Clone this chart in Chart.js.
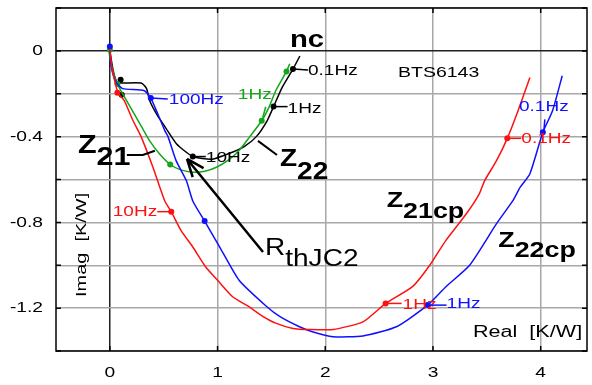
<!DOCTYPE html>
<html>
<head>
<meta charset="utf-8">
<script src="https://cdn.jsdelivr.net/npm/chart.js@4"></script>
<style>
  html, body { margin: 0; padding: 0; background: #fff; }
  #wrap { width: 592px; height: 385px; }
</style>
</head>
<body>
<div id="wrap"><canvas id="nyquist" width="592" height="385"></canvas></div>
<script>
// axis ticks
const xTicks = [0, 1, 2, 3, 4];
const yTicks = [0.2, 0, -0.2, -0.4, -0.6, -0.8, -1.0, -1.2, -1.4];
const yTickLabels = [[0, '0'], [-0.4, '-0.4'], [-0.8, '-0.8'], [-1.2, '-1.2']];

// Z21cp (red) [real, imag]
const z21cpLine = [[0.0, 0.01], [0.02, -0.08], [0.06, -0.17], [0.08, -0.2], [0.135, -0.233], [0.21, -0.32],
  [0.29, -0.40], [0.40, -0.543], [0.51, -0.70], [0.57, -0.75], [0.66, -0.837], [0.77, -0.915], [0.89, -1.008],
  [1.00, -1.07], [1.14, -1.147], [1.28, -1.19], [1.42, -1.238], [1.54, -1.27], [1.70, -1.295], [1.85, -1.30],
  [2.07, -1.30], [2.35, -1.264], [2.56, -1.178], [2.81, -1.10], [2.97, -1.0], [3.12, -0.884], [3.31, -0.76],
  [3.43, -0.667], [3.48, -0.605], [3.59, -0.512], [3.69, -0.408], [3.79, -0.279], [3.90, -0.124]];
const z21cpMarks = [[0.07, -0.195], [0.57, -0.75], [2.56, -1.178], [3.69, -0.408]];

// Z22cp (blue)
const z22cpLine = [[-0.01, 0.03], [0.0, 0.0], [0.014, -0.078], [0.058, -0.147], [0.12, -0.176], [0.32, -0.186],
  [0.38, -0.22], [0.45, -0.30], [0.51, -0.372], [0.54, -0.40], [0.615, -0.512], [0.71, -0.605], [0.77, -0.70],
  [0.88, -0.794], [1.02, -0.915], [1.20, -1.07], [1.45, -1.19], [1.58, -1.24], [1.76, -1.287], [1.88, -1.31],
  [2.07, -1.333], [2.35, -1.33], [2.66, -1.287], [2.95, -1.186], [3.12, -1.10], [3.34, -1.0], [3.59, -0.806],
  [3.74, -0.70], [3.81, -0.636], [3.90, -0.573], [4.02, -0.38], [4.11, -0.279], [4.20, -0.116]];
const z22cpMarks = [[0.0, 0.02], [0.38, -0.22], [0.88, -0.794], [2.95, -1.186], [4.02, -0.38]];

// Z21 (green)
const z21Line = [[-0.01, 0.01], [0.0, -0.03], [0.03, -0.10], [0.07, -0.155], [0.13, -0.21], [0.21, -0.28],
  [0.29, -0.35], [0.37, -0.42], [0.46, -0.48], [0.56, -0.53], [0.66, -0.555], [0.77, -0.566], [0.88, -0.562],
  [0.99, -0.543], [1.10, -0.51], [1.20, -0.465], [1.30, -0.40], [1.41, -0.326], [1.48, -0.26], [1.54, -0.186],
  [1.64, -0.096], [1.67, -0.06]];
const z21Marks = [[0.0, 0.005], [0.07, -0.155], [0.56, -0.53], [1.41, -0.326], [1.64, -0.096]];

// Z22 / nc (black)
const z22Line = [[0.0, 0.0], [0.03, -0.09], [0.06, -0.14], [0.09, -0.15], [0.29, -0.15], [0.34, -0.175],
  [0.37, -0.233], [0.44, -0.30], [0.52, -0.36], [0.62, -0.434], [0.77, -0.493], [0.95, -0.505], [1.10, -0.48],
  [1.25, -0.445], [1.36, -0.40], [1.46, -0.326], [1.52, -0.26], [1.60, -0.17], [1.70, -0.085], [1.764, -0.024]];
const z22Marks = [[0.10, -0.135], [0.11, -0.205], [0.77, -0.493], [1.52, -0.26], [1.70, -0.085]];

const RED = '#ff1010', BLUE = '#1010ff', GREEN = '#10a818', BLACK = '#000000';
const FONT = '"Liberation Sans", Arial, sans-serif';

// frequency labels, hung on markers (offsets in px)
const freqLabels = [
  { text: '100Hz', color: BLUE, at: z22cpMarks[1], line: [0, 0, 17, 1], tx: 18, ty: 2, align: 'left' },
  { text: '1Hz', color: GREEN, at: z21Marks[3], line: [1, -3, 4, -14], tx: -7, ty: -26, align: 'center' },
  { text: '1Hz', color: BLACK, at: z22Marks[3], line: [0, 0, 14, 0], tx: 14, ty: 2, align: 'left' },
  { text: '0.1Hz', color: BLACK, at: z22Marks[4], line: [0, 0, 15, 1], tx: 15, ty: 2, align: 'left' },
  { text: '10Hz', color: BLACK, at: z22Marks[2], line: [0, 0, 13, 0], tx: 13, ty: 1, align: 'left' },
  { text: '10Hz', color: RED, at: z21cpMarks[1], line: [0, 0, -14, 0], tx: -14, ty: 0, align: 'right' },
  { text: '0.1Hz', color: RED, at: z21cpMarks[3], line: [0, 0, 14, 0], tx: 14, ty: 1, align: 'left' },
  { text: '0.1Hz', color: BLUE, at: z22cpMarks[4], line: [1, -1, 2, -13], tx: 1, ty: -25, align: 'center' },
  { text: '1Hz', color: RED, at: z21cpMarks[2], line: [0, 0, 16, 0], tx: 17, ty: 1, align: 'left' },
  { text: '1Hz', color: BLUE, at: z22cpMarks[3], line: [0, 0, 19, 0], tx: 19, ty: -1, align: 'left' }
];

// curve names (data position of left/baseline)
const curveNames = [
  { main: 'Z', sub: '21', at: [-0.296, -0.476], size: 25, dy: 12, bold: true },
  { main: 'Z', sub: '22', at: [1.579, -0.539], size: 23, dy: 13, bold: true },
  { main: 'nc', sub: '', at: [1.672, 0.02], size: 24, dy: 0, bold: true },
  { main: 'R', sub: 'thJC2', at: [1.44, -0.952], size: 23, dy: 11, bold: false },
  { main: 'Z', sub: '21cp', at: [2.57, -0.727], size: 22, dy: 11, bold: true },
  { main: 'Z', sub: '22cp', at: [3.606, -0.913], size: 22, dy: 10, bold: true }
];
const pointers = [
  [[0.158, -0.486], [0.306, -0.486], [0.418, -0.466]],
  [[1.375, -0.42], [1.552, -0.486]]
];
const rthArrow = [[1.422, -0.938], [0.716, -0.504]];

function pts(arr) { return arr.map(p => ({ x: p[0], y: p[1] })); }

function sText(ctx, str, x, y, font, color, sx, align, base) {
  ctx.save();
  ctx.font = font;
  ctx.fillStyle = color;
  ctx.textAlign = 'left';
  ctx.textBaseline = base || 'alphabetic';
  const w = ctx.measureText(str).width * sx;
  let left = x;
  if (align === 'right') left = x - w;
  else if (align === 'center') left = x - w / 2;
  ctx.translate(left, y);
  ctx.scale(sx, 1);
  ctx.fillText(str, 0, 0);
  ctx.restore();
  return w;
}

const decor = {
  id: 'decor',
  afterDraw(chart) {
    const ctx = chart.ctx, a = chart.chartArea;
    const xs = chart.scales.x, ys = chart.scales.y;
    const P = (p) => [xs.getPixelForValue(p[0]), ys.getPixelForValue(p[1])];

    // frame + inward ticks
    ctx.save();
    ctx.strokeStyle = '#000';
    ctx.lineWidth = 1.5;
    ctx.strokeRect(a.left, a.top, a.right - a.left, a.bottom - a.top);
    ctx.beginPath();
    xTicks.forEach(v => {
      const px = xs.getPixelForValue(v);
      ctx.moveTo(px, a.bottom); ctx.lineTo(px, a.bottom - 5);
      ctx.moveTo(px, a.top); ctx.lineTo(px, a.top + 5);
    });
    yTicks.forEach(v => {
      const py = ys.getPixelForValue(v);
      ctx.moveTo(a.left, py); ctx.lineTo(a.left + 5, py);
      ctx.moveTo(a.right, py); ctx.lineTo(a.right - 5, py);
    });
    ctx.stroke();
    ctx.restore();

    // tick labels
    const tickFont = '15px ' + FONT;
    yTickLabels.forEach(t => {
      sText(ctx, t[1], a.left - 13, ys.getPixelForValue(t[0]), tickFont, '#000', 1.28, 'right', 'middle');
    });
    xTicks.forEach(v => {
      sText(ctx, String(v), xs.getPixelForValue(v), a.bottom + 22, tickFont, '#000', 1.28, 'center', 'middle');
    });

    // axis titles
    const at = P([3.371, -1.334]);
    sText(ctx, 'Real  [K/W]', at[0], at[1], '16px ' + FONT, '#000', 1.35, 'left');
    const it = P([-0.259, -0.905]);
    ctx.save();
    ctx.translate(it[0], it[1]);
    ctx.rotate(-Math.PI / 2);
    sText(ctx, 'Imag  [K/W]', 0, 0, '15px ' + FONT, '#000', 1.33, 'center', 'middle');
    ctx.restore();

    const bt = P([2.675, -0.122]);
    sText(ctx, 'BTS6143', bt[0], bt[1], '15px ' + FONT, '#000', 1.3, 'left');

    // frequency labels
    freqLabels.forEach(f => {
      const m = P(f.at);
      ctx.save();
      ctx.strokeStyle = f.color;
      ctx.lineWidth = 1.5;
      ctx.beginPath();
      ctx.moveTo(m[0] + f.line[0], m[1] + f.line[1]);
      ctx.lineTo(m[0] + f.line[2], m[1] + f.line[3]);
      ctx.stroke();
      ctx.restore();
      sText(ctx, f.text, m[0] + f.tx, m[1] + f.ty, '15px ' + FONT, f.color, 1.27, f.align, 'middle');
    });

    // curve names
    curveNames.forEach(n => {
      const p = P(n.at);
      const font = (n.bold ? 'bold ' : '') + n.size + 'px ' + FONT;
      const w = sText(ctx, n.main, p[0], p[1], font, '#000', 1.22, 'left');
      if (n.sub) sText(ctx, n.sub, p[0] + w, p[1] + n.dy, font, '#000', 1.22, 'left');
    });

    // pointer lines
    ctx.save();
    ctx.strokeStyle = '#000';
    ctx.lineWidth = 2;
    pointers.forEach(pl => {
      ctx.beginPath();
      pl.forEach((q, i) => {
        const p = P(q);
        if (i === 0) ctx.moveTo(p[0], p[1]); else ctx.lineTo(p[0], p[1]);
      });
      ctx.stroke();
    });
    // R_thJC2 arrow
    const t0 = P(rthArrow[0]), t1 = P(rthArrow[1]);
    ctx.lineWidth = 2.5;
    ctx.beginPath();
    ctx.moveTo(t0[0], t0[1]);
    ctx.lineTo(t1[0], t1[1]);
    const ang = Math.atan2(t0[1] - t1[1], t0[0] - t1[0]);
    [0.38, -0.38].forEach(d => {
      ctx.moveTo(t1[0], t1[1]);
      ctx.lineTo(t1[0] + 19 * Math.cos(ang + d), t1[1] + 19 * Math.sin(ang + d));
    });
    ctx.stroke();
    ctx.restore();
  }
};

function lineSet(data, color) {
  return { data: pts(data), showLine: true, borderColor: color, borderWidth: 1.5,
    pointRadius: 0, tension: 0.2, fill: false };
}
function markSet(data, color) {
  return { data: pts(data), showLine: false, backgroundColor: color, borderColor: color,
    pointRadius: 3, pointBorderWidth: 0 };
}

new Chart(document.getElementById('nyquist'), {
  type: 'scatter',
  data: {
    datasets: [
      lineSet(z21cpLine, RED), markSet(z21cpMarks, RED),
      lineSet(z22cpLine, BLUE), markSet(z22cpMarks, BLUE),
      lineSet(z21Line, GREEN), markSet(z21Marks, GREEN),
      lineSet(z22Line, BLACK), markSet(z22Marks, BLACK)
    ]
  },
  options: {
    responsive: false,
    animation: false,
    layout: { padding: { top: 8, right: 5, left: 0, bottom: 0 } },
    plugins: { legend: { display: false }, tooltip: { enabled: false } },
    scales: {
      x: {
        type: 'linear', min: -0.5, max: 4.43,
        afterBuildTicks: s => { s.ticks = xTicks.map(v => ({ value: v })); },
        afterFit: s => { s.height = 34; },
        ticks: { display: false },
        border: { display: false },
        grid: { drawTicks: false, lineWidth: 1.5,
          color: c => (c.tick && c.tick.value === 0) ? '#202020' : '#a8a8a8' }
      },
      y: {
        type: 'linear', min: -1.4, max: 0.2,
        afterBuildTicks: s => { s.ticks = yTicks.map(v => ({ value: v })); },
        afterFit: s => { s.width = 56; },
        ticks: { display: false },
        border: { display: false },
        grid: { drawTicks: false, lineWidth: 1.5,
          color: c => (c.tick && Math.abs(c.tick.value) < 1e-9) ? '#202020' : '#a8a8a8' }
      }
    }
  },
  plugins: [decor]
});
</script>
</body>
</html>
